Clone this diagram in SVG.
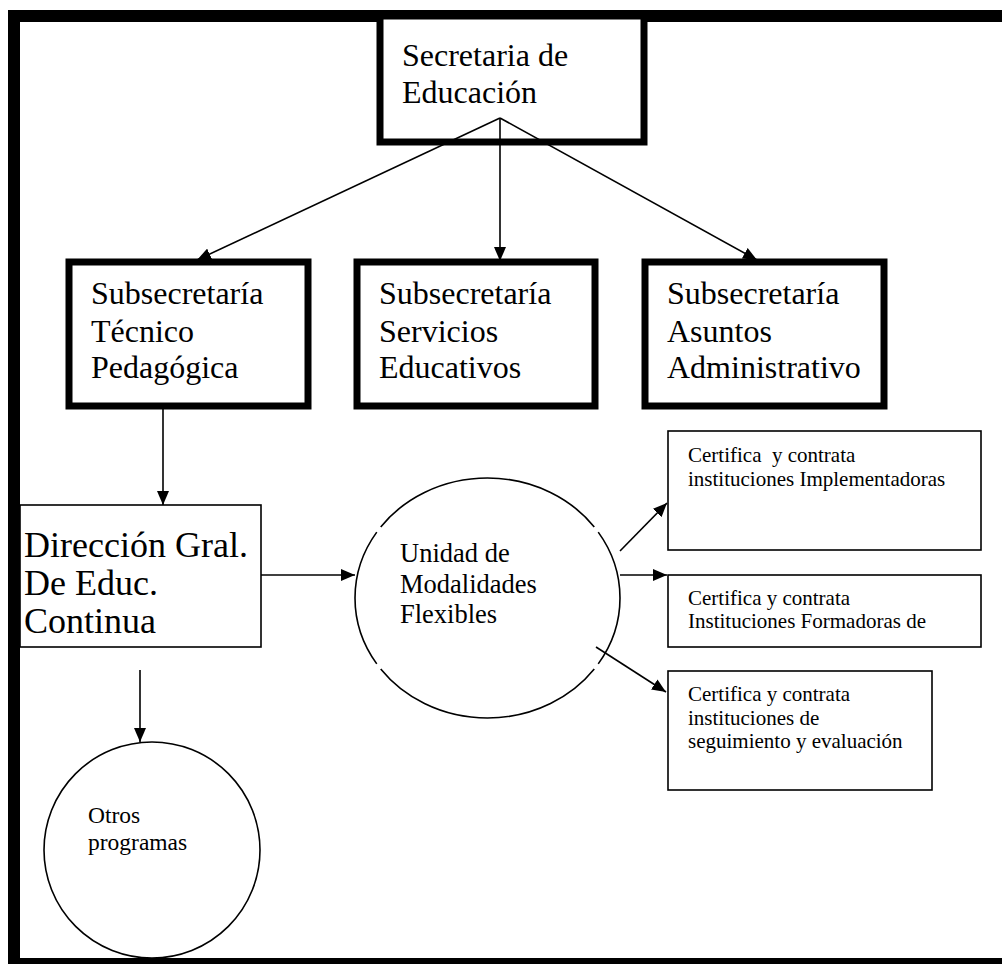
<svg xmlns="http://www.w3.org/2000/svg" width="1002" height="964" viewBox="0 0 1002 964">
<style>
text{font-family:"Liberation Serif","Times New Roman",serif;fill:#000}
.big{font-size:32px}
.dir{font-size:36px}
.mid{font-size:26.5px}
.sm{font-size:21px}
.ot{font-size:23.5px}
.thick{fill:#fff;stroke:#000;stroke-width:7}
.thin{fill:#fff;stroke:#000;stroke-width:1.6}
.conn{stroke:#000;stroke-width:1.6;fill:none}
</style>
<defs>
<marker id="ah" markerUnits="userSpaceOnUse" markerWidth="14" markerHeight="12" refX="14" refY="6" orient="auto">
<path d="M0,0 L14,6 L0,12 z" fill="#000"/>
</marker>
</defs>
<rect id="frame" x="14" y="16" width="1000" height="948" fill="#fff" stroke="#000" stroke-width="12"/>
<g id="n-secretaria">
<rect class="thick" x="380" y="16" width="264" height="126"/>
<text class="big" x="402" y="66">Secretaria de</text>
<text class="big" x="402" y="103">Educación</text>
</g>
<g id="n-sub-tecnico">
<rect class="thick" x="69" y="262" width="239" height="144"/>
<text class="big" x="91" y="304">Subsecretaría</text>
<text class="big" x="91" y="342">Técnico</text>
<text class="big" x="91" y="378">Pedagógica</text>
</g>
<g id="n-sub-servicios">
<rect class="thick" x="357" y="262" width="238" height="144"/>
<text class="big" x="379" y="304">Subsecretaría</text>
<text class="big" x="379" y="342">Servicios</text>
<text class="big" x="379" y="378">Educativos</text>
</g>
<g id="n-sub-asuntos">
<rect class="thick" x="645" y="262" width="239" height="144"/>
<text class="big" x="667" y="304">Subsecretaría</text>
<text class="big" x="667" y="342">Asuntos</text>
<text class="big" x="667" y="378">Administrativo</text>
</g>
<g id="n-direccion">
<rect class="thin" x="20" y="505" width="241" height="142"/>
<text class="dir" x="24" y="557">Dirección Gral.</text>
<text class="dir" x="24" y="595">De Educ.</text>
<text class="dir" x="24" y="633">Continua</text>
</g>
<g id="n-unidad">
<path class="conn" d="M598.24 532.12 A132.5 120 0 0 1 598.24 663.88 M594.28 669.04 A132.5 120 0 0 1 380.72 669.04 M376.76 663.88 A132.5 120 0 0 1 376.76 532.12 M380.72 526.96 A132.5 120 0 0 1 594.28 526.96"/>
<text class="mid" x="400" y="562">Unidad de</text>
<text class="mid" x="400" y="593">Modalidades</text>
<text class="mid" x="400" y="623">Flexibles</text>
</g>
<g id="n-implementadoras">
<rect class="thin" x="668" y="431" width="313" height="119"/>
<text class="sm" x="688" y="462" xml:space="preserve">Certifica  y contrata</text>
<text class="sm" x="688" y="486">instituciones Implementadoras</text>
</g>
<g id="n-formadoras">
<rect class="thin" x="668" y="575" width="313" height="72"/>
<text class="sm" x="688" y="605">Certifica y contrata</text>
<text class="sm" x="688" y="628">Instituciones Formadoras de</text>
</g>
<g id="n-seguimiento">
<rect class="thin" x="668" y="671" width="264" height="119"/>
<text class="sm" x="688" y="701">Certifica y contrata</text>
<text class="sm" x="688" y="725">instituciones de</text>
<text class="sm" x="688" y="748">seguimiento y evaluación</text>
</g>
<g id="n-otros">
<circle class="thin" cx="152" cy="850" r="108"/>
<text class="ot" x="88" y="823">Otros</text>
<text class="ot" x="88" y="850">programas</text>
</g>
<g id="connectors" class="conn">
<line x1="500" y1="118" x2="197" y2="260" marker-end="url(#ah)"/>
<line x1="500" y1="118" x2="500" y2="261" marker-end="url(#ah)"/>
<line x1="500" y1="118" x2="757" y2="260" marker-end="url(#ah)"/>
<line x1="163" y1="409" x2="163" y2="505" marker-end="url(#ah)"/>
<line x1="261" y1="575" x2="355" y2="575" marker-end="url(#ah)"/>
<line x1="620" y1="551" x2="667" y2="503" marker-end="url(#ah)"/>
<line x1="620" y1="575" x2="667" y2="575" marker-end="url(#ah)"/>
<line x1="596" y1="647" x2="666" y2="692" marker-end="url(#ah)"/>
<line x1="140" y1="670" x2="140" y2="742" marker-end="url(#ah)"/>
</g>
</svg>
